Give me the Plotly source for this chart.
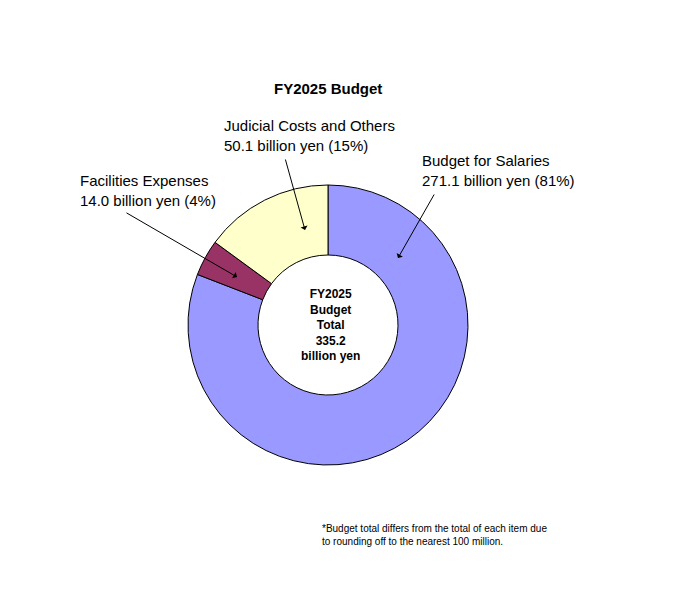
import plotly.graph_objects as go

W, H = 676, 599
OFF = 8  # page body margin
labels = ["Budget for Salaries", "Facilities Expenses", "Judicial Costs and Others"]
values = [271.1, 14.0, 50.1]
shares = ["81%", "4%", "15%"]
colors = ["#9999FF", "#993366", "#FFFFCC"]


def px(x, y):
    return (x - OFF) / W, 1 - (y - OFF) / H


fig = go.Figure(go.Pie(
    labels=labels, values=values, hole=0.5, sort=False, direction="clockwise",
    rotation=0, textinfo="none", hoverinfo="label+value",
    marker=dict(colors=colors, line=dict(color="black", width=1)),
    domain=dict(x=[(188 - OFF) / W, (468 - OFF) / W],
                y=[(H - 465 + OFF) / H, (H - 185 + OFF) / H]),
    showlegend=False,
))

font = dict(family="Liberation Sans, Arial", size=15, color="black")
ann = []
x, y = px(328, 78)
ann.append(dict(x=x, y=y, text="<b>FY2025 Budget</b>", showarrow=False, font=dict(font, size=15)))
x, y = px(330, 325)
ann.append(dict(x=x, y=y, text="<b>FY2025<br>Budget<br>Total<br>335.2<br>billion yen</b>",
                showarrow=False, font=dict(font, size=12)))
items = [
    (0, (420, 170), (435, 193), (398, 258)),
    (1, (78, 190), (125, 212), (237, 277)),
    (2, (222, 135), (285, 158), (305, 230)),
]
for i, (tx, ty), (ax_, ay_), (hx, hy) in items:
    x, y = px(tx, ty)
    ann.append(dict(x=x, y=y, xanchor="left", yanchor="middle", showarrow=False,
                    align="left", font=font,
                    text=f"{labels[i]}<br>{values[i]:.1f} billion yen ({shares[i]})"))
    x, y = px(hx, hy)
    ann.append(dict(x=x, y=y, ax=ax_ - hx, ay=ay_ - hy, showarrow=True, arrowhead=1,
                    arrowsize=1.2, arrowwidth=1, arrowcolor="black", text=""))
x, y = px(320, 535)
ann.append(dict(x=x, y=y, xanchor="left", yanchor="middle", showarrow=False, align="left",
                font=dict(font, size=10),
                text="*Budget total differs from the total of each item due<br>to rounding off to the nearest 100 million."))
for a in ann:
    a.setdefault("xref", "paper")
    a.setdefault("yref", "paper")

fig.update_layout(width=W, height=H, margin=dict(l=0, r=0, t=0, b=0),
                  paper_bgcolor="white", plot_bgcolor="white", annotations=ann)
fig.write_html("out.html")
